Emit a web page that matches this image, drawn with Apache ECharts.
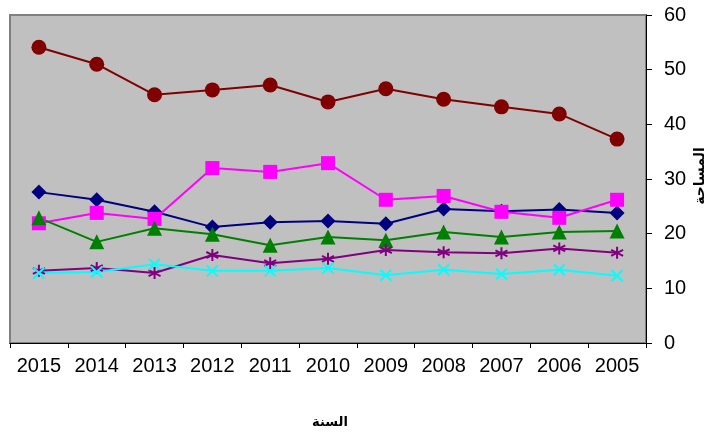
<!DOCTYPE html>
<html>
<head>
<meta charset="utf-8">
<script src="https://cdn.jsdelivr.net/npm/echarts@6/dist/echarts.min.js"></script>
<style>
  html, body { margin: 0; padding: 0; background: #fff; }
  #chart { width: 711px; height: 434px; }
</style>
</head>
<body>
<div id="chart"></div>
<script>
// years, left to right as in the picture
const years = ['2015', '2014', '2013', '2012', '2011', '2010', '2009', '2008', '2007', '2006', '2005']
const yTicks = [0, 10, 20, 30, 40, 50, 60]

const circleVals = [54.1, 51.0, 45.4, 46.3, 47.2, 44.1, 46.5, 44.6, 43.2, 41.9, 37.3]
const diamondVals = [27.6, 26.2, 24.0, 21.2, 22.1, 22.3, 21.8, 24.5, 24.1, 24.4, 23.8]
const squareVals = [21.9, 23.8, 22.7, 32.0, 31.3, 32.9, 26.2, 26.9, 24.0, 22.9, 26.2]
const triangleVals = [22.9, 18.5, 21.0, 19.9, 17.9, 19.4, 18.8, 20.3, 19.4, 20.3, 20.5]
const starVals = [13.2, 13.7, 12.8, 16.1, 14.6, 15.4, 17.0, 16.6, 16.4, 17.3, 16.5]
const crossVals = [12.8, 13.0, 14.4, 13.2, 13.2, 13.7, 12.4, 13.4, 12.6, 13.4, 12.3]

const xTitle = 'السنة'
const yTitle = 'المساحة'

const font = 'Arial, "Liberation Sans", "DejaVu Sans", sans-serif'
const starPath = 'path://M0,-10L0,10M-8.66,-5L8.66,5M-8.66,5L8.66,-5'
const crossPath = 'path://M-10,-10L10,10M-10,10L10,-10'

function filled (name, data, color, symbol, size) {
  return {
    name: name,
    type: 'line',
    data: data,
    symbol: symbol,
    symbolSize: size,
    lineStyle: { color: color, width: 2 },
    itemStyle: { color: color },
    z: 3
  }
}

function stroked (name, data, color, symbol, size) {
  return {
    name: name,
    type: 'line',
    data: data,
    symbol: symbol,
    symbolSize: size,
    lineStyle: { color: color, width: 2 },
    itemStyle: { color: 'none', borderColor: color, borderWidth: 2 },
    z: 3
  }
}

const chart = echarts.init(document.getElementById('chart'))
chart.setOption({
  animation: false,
  grid: {
    left: 10,
    right: 65,
    top: 15,
    bottom: 91,
    outerBoundsMode: 'none',
    containLabel: false,
    show: true,
    backgroundColor: '#c0c0c0',
    borderColor: '#808080',
    borderWidth: 2
  },
  xAxis: {
    type: 'category',
    data: years,
    boundaryGap: true,
    axisLine: { lineStyle: { color: '#000', width: 1 } },
    axisTick: { show: true, length: 5, inside: false, interval: 0, lineStyle: { color: '#000' } },
    axisLabel: { color: '#000', fontSize: 20, fontFamily: font, margin: 13, interval: 0, hideOverlap: false },
    splitLine: { show: false }
  },
  yAxis: {
    type: 'value',
    position: 'right',
    min: yTicks[0],
    max: yTicks[yTicks.length - 1],
    interval: 10,
    axisLine: { show: true, lineStyle: { color: '#000', width: 1 } },
    axisTick: { show: true, length: 6, lineStyle: { color: '#000' } },
    axisLabel: { color: '#000', fontSize: 20, fontFamily: font, margin: 18 },
    splitLine: { show: false }
  },
  graphic: [
    {
      type: 'text',
      x: 330,
      y: 422,
      style: { text: xTitle, fill: '#000', font: 'bold 13px ' + font, align: 'center', verticalAlign: 'middle' }
    },
    {
      type: 'text',
      x: 700,
      y: 176,
      rotation: Math.PI / 2,
      style: { text: yTitle, fill: '#000', font: 'bold 14px ' + font, align: 'center', verticalAlign: 'middle' }
    }
  ],
  series: [
    filled('a', circleVals, '#800000', 'circle', 15),
    filled('b', diamondVals, '#000080', 'diamond', 15),
    filled('c', squareVals, '#ff00ff', 'rect', 14),
    filled('d', triangleVals, '#008000', 'triangle', 15),
    stroked('e', starVals, '#800080', starPath, 12),
    stroked('f', crossVals, '#00ffff', crossPath, 11)
  ]
})
</script>
</body>
</html>
